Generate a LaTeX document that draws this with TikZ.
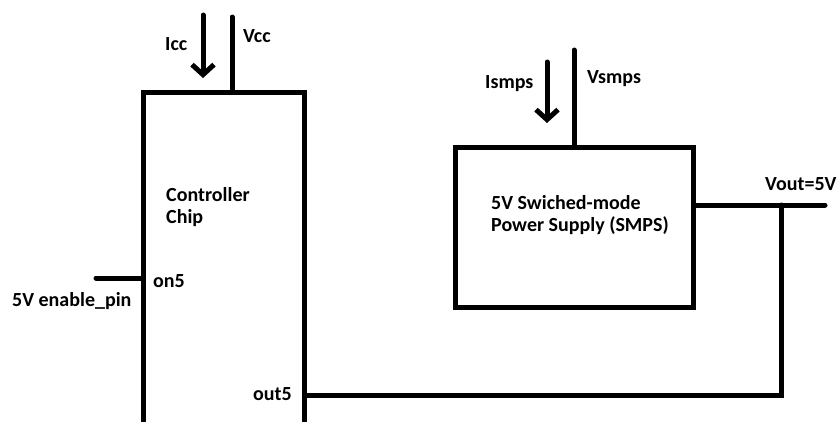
\documentclass[tikz,border=0pt]{standalone}
\usepackage{fontspec}
\setmainfont{Carlito}
\usetikzlibrary{positioning, calc, arrows.meta}

\begin{document}
\begin{tikzpicture}[x=1pt, y=-1pt,
            block/.style={rectangle, draw=black, line width=5pt, inner sep=0pt},
            wire/.style={draw=black, line width=5pt, line cap=round},
            current/.style={wire, -{Straight Barb[length=10pt, width=22pt]}},
            lbl/.style={inner sep=0pt, font=\fontsize{20}{22}\selectfont\bfseries, text=black, align=left}
        ]
            \useasboundingbox (0,0) rectangle (837,421);
            \clip (0,0) rectangle (837,421);

            \node[block, minimum width=161pt, minimum height=420pt] (chip) at (223.5,302) {};
            \node[block, minimum width=238pt, minimum height=160pt] (smps) at (574,227) {};

            \coordinate (vcctop) at (232,17);
            \coordinate (iccstart) at (203,15);
            \coordinate (iccend) at (203,78);
            \coordinate (vsmpstop) at (574,50);
            \coordinate (ismpsstart) at (547,62);
            \coordinate (ismpsend) at (547,123);
            \coordinate (enpin) at (96,278);
            \coordinate (voutend) at (825,205);
            \coordinate (tap) at (781,205);
            \coordinate (corner) at (781,395);

            \draw[wire] (vcctop) -- (vcctop |- chip.north);
            \draw[current] (iccstart) -- (iccend);
            \draw[wire] (vsmpstop) -- (smps.north);
            \draw[current] (ismpsstart) -- (ismpsend);
            \draw[wire] (enpin) -- (enpin -| chip.west);
            \draw[wire] (voutend -| smps.east) -- (voutend);
            \draw[wire] (tap) -- (corner) -- (corner -| chip.east);

            \node[lbl, anchor=base west] (icc) at (165,50) {Icc};
            \node[lbl, anchor=base west] (vcc) at (243,42) {Vcc};
            \node[lbl, anchor=base west] (ismps) at (485,88) {Ismps};
            \node[lbl, anchor=base west] (vsmps) at (587,83) {Vsmps};
            \node[lbl, anchor=base west] (chipname) at (166,223) {Controller\\Chip};
            \node[lbl, anchor=base west] (smpsname) at (491,231) {5V Swiched-mode\\Power Supply (SMPS)};
            \node[lbl, anchor=base west] (vout) at (765,190) {Vout=5V};
            \node[lbl, anchor=base west] (enable) at (12,306) {5V enable\_pin};
            \node[lbl, anchor=base west] (on5) at (153,287) {on5};
            \node[lbl, anchor=base west] (out5) at (253,400) {out5};
        \end{tikzpicture}
\end{document}
